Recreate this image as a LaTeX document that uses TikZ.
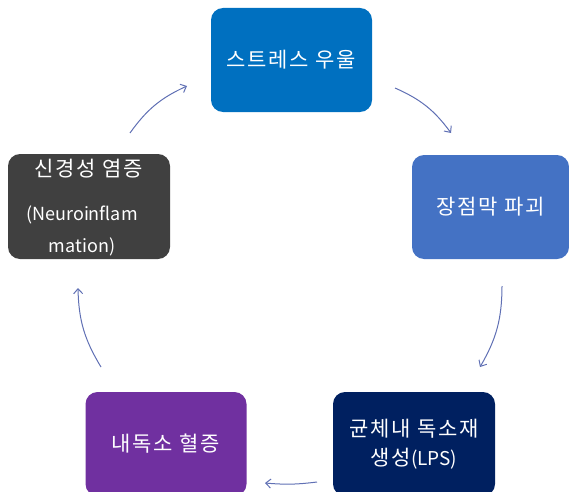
\documentclass[tikz,border=0pt]{standalone}
\usepackage{fontspec}
\setmainfont{Noto Sans CJK KR}
\newfontfamily\kr[LetterSpace=8]{Noto Sans CJK KR}
\usetikzlibrary{arrows.meta}
\definecolor{cTop}{RGB}{0,112,192}
\definecolor{cRight}{RGB}{68,114,196}
\definecolor{cNavy}{RGB}{0,32,96}
\definecolor{cPurple}{RGB}{112,48,160}
\definecolor{cGray}{RGB}{64,64,64}
\definecolor{cArrow}{RGB}{96,112,180}
\begin{document}
\begin{tikzpicture}[x=1pt,y=1pt,
  box/.style={rounded corners=12pt, text=white, align=center, inner sep=0pt,
    minimum width=161pt, minimum height=104pt, font=\kr\fontsize{21}{25}\selectfont},
  lbl/.style={text=white, inner sep=0pt, font=\fontsize{18}{21}\selectfont},
  conn/.style={draw=cArrow, line width=1pt, -{Straight Barb[length=5pt,width=9pt]}}]
\clip (0,0) rectangle (569,491);
\node[box, fill=cTop] (stress) at (291.5,431) {스트레스 우울};
\node[box, fill=cRight, minimum width=157pt] (gut) at (490.5,284) {장점막 파괴};
\node[box, fill=cNavy, minimum width=162pt] (lps) at (414,47) {균체내 독소재\\[4pt]생성{\rmfamily\fontsize{19}{25}\selectfont(LPS)}};
\node[box, fill=cPurple] (endo) at (166,47) {내독소 혈증};
\node[box, fill=cGray, minimum width=162pt, minimum height=105pt] (neuro) at (89,284.5) {};
\node[lbl, font=\kr\fontsize{21}{25}\selectfont] (neuro1) at (89,322) {신경성 염증};
\node[lbl] (neuro2) at (82,276) {(Neuroinflam};
\node[lbl] (neuro3) at (82,244) {mation)};
\coordinate (a1s) at (130,358); \coordinate (a1e) at (187,405);
\coordinate (a2s) at (395,403); \coordinate (a2e) at (451,358);
\coordinate (a3s) at (502,205); \coordinate (a3e) at (480,124);
\coordinate (a4s) at (317,9);   \coordinate (a4e) at (265,8);
\coordinate (a5s) at (101,124); \coordinate (a5e) at (78,203);
\draw[conn] (a1s) to[bend left=15] (a1e);
\draw[conn] (a2s) to[bend left=15] (a2e);
\draw[conn] (a3s) to[bend left=15] (a3e);
\draw[conn] (a4s) to[bend left=6] (a4e);
\draw[conn] (a5s) to[bend left=15] (a5e);
\end{tikzpicture}
\end{document}
